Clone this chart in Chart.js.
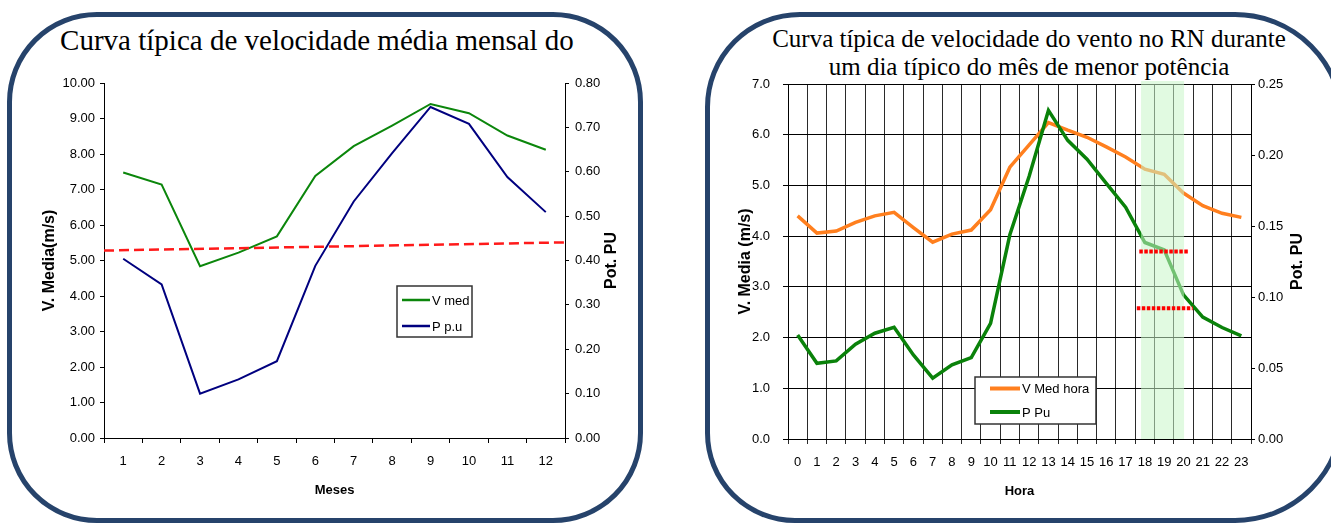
<!DOCTYPE html>
<html><head><meta charset="utf-8">
<script src="https://cdn.jsdelivr.net/npm/chart.js@4/dist/chart.umd.min.js"></script>
<style>
html,body{margin:0;padding:0;width:1331px;height:523px;overflow:hidden;background:#fff;}
.box{position:absolute;box-sizing:border-box;border:5px solid #26436B;border-radius:90px;}
.title{position:absolute;font-family:'Liberation Serif','Times New Roman',serif;color:#000;text-align:center;white-space:nowrap;}
canvas{position:absolute;top:0;}
</style></head><body>
<div class="box" style="left:7px;top:12px;width:636px;height:511px"></div>
<div class="box" style="left:705px;top:12px;width:640px;height:511px;border-radius:95px 110px 110px 90px"></div>
<div class="title" style="left:17px;top:26px;width:600px;font-size:29px;line-height:29px">Curva típica de velocidade média mensal do</div>
<div class="title" style="left:729px;top:25px;width:600px;font-size:25px;line-height:28px">Curva típica de velocidade do vento no RN durante<br>um dia típico do mês de menor potência</div>
<canvas id="c1" width="660" height="523" style="left:0"></canvas>
<canvas id="c2" width="671" height="523" style="left:660px"></canvas>
<script>
// ---- Chart 1 data (monthly) ----
const months = ['1','2','3','4','5','6','7','8','9','10','11','12'];
const vMed = [7.48, 7.14, 4.84, 5.22, 5.68, 7.38, 8.22, 8.80, 9.41, 9.15, 8.52, 8.12];
const pPu = [0.404, 0.346, 0.100, 0.132, 0.173, 0.388, 0.533, 0.642, 0.746, 0.708, 0.588, 0.509];
const trendX = [0.5, 12.5];
const trendY = [5.28, 5.51];

// ---- Chart 2 data (hourly) ----
const hours = ['0','1','2','3','4','5','6','7','8','9','10','11','12','13','14','15','16','17','18','19','20','21','22','23'];
const vMedHora = [4.40, 4.06, 4.10, 4.27, 4.40, 4.47, 4.17, 3.88, 4.04, 4.12, 4.52, 5.36, 5.80, 6.24, 6.09, 5.95, 5.76, 5.56, 5.32, 5.22, 4.85, 4.60, 4.45, 4.37];
const pPuHora = [0.0733, 0.0533, 0.0550, 0.0667, 0.0745, 0.0787, 0.0592, 0.0428, 0.0522, 0.0573, 0.0815, 0.1438, 0.1850, 0.2314, 0.2103, 0.1970, 0.1800, 0.1633, 0.1384, 0.1332, 0.1015, 0.0858, 0.0785, 0.0726];
const refLevels = [0.132, 0.092];
const refStart = [17.71, 17.58];
const refEnd = [20.30, 20.48];
const bandRange = [17.8, 20.03];

Chart.defaults.font.family = "'Liberation Sans', Arial, sans-serif";
Chart.defaults.font.size = 13;
Chart.defaults.color = '#000';

const legendBox = {
  id: 'legendBox',
  afterDraw(chart, args, o) {
    const ctx = chart.ctx, b = o.box;
    ctx.save();
    ctx.fillStyle = '#fff';
    ctx.fillRect(b[0], b[1], b[2], b[3]);
    ctx.strokeStyle = '#333'; ctx.lineWidth = 1.5;
    ctx.strokeRect(b[0], b[1], b[2], b[3]);
    ctx.font = "13px 'Liberation Sans', Arial, sans-serif";
    ctx.textBaseline = 'middle'; ctx.textAlign = 'left'; ctx.fillStyle = '#000';
    chart.data.datasets.filter(d => d.inLegend).forEach((d, i) => {
      const y = o.firstY + i * o.stepY;
      ctx.strokeStyle = d.borderColor; ctx.lineWidth = o.lineW;
      ctx.beginPath(); ctx.moveTo(o.x0, y); ctx.lineTo(o.x1, y); ctx.stroke();
      ctx.fillText(d.label, o.x1 + 2, y + 1);
    });
    ctx.restore();
  }
};

const rightTitle = {
  id: 'rightTitle',
  afterDraw(chart, args, o) {
    const s = chart.scales.y1, ctx = chart.ctx;
    ctx.save();
    ctx.font = "bold 16px 'Liberation Sans', Arial, sans-serif";
    ctx.fillStyle = '#000'; ctx.textAlign = 'center'; ctx.textBaseline = 'middle';
    ctx.translate(s.right - o.offset, (s.top + s.bottom) / 2);
    ctx.rotate(-Math.PI / 2);
    ctx.fillText(o.text, 0, 0);
    ctx.restore();
  }
};

const bandPlugin = {
  id: 'band',
  beforeDatasetsDraw(chart) { chart.$bandDone = false; },
  beforeDatasetDraw(chart, args) {
    const ds = chart.data.datasets[args.index];
    if (ds.refLine && !chart.$bandDone) {
      chart.$bandDone = true;
      const x2 = chart.scales.x2, a = chart.chartArea, ctx = chart.ctx;
      const xa = x2.getPixelForValue(bandRange[0]), xb = x2.getPixelForValue(bandRange[1]);
      ctx.save();
      ctx.fillStyle = 'rgba(200,245,200,0.55)';
      ctx.fillRect(xa, a.top - 3, xb - xa, a.bottom - a.top + 3);
      ctx.restore();
    }
  }
};

// ---------- Chart 1 ----------
new Chart(document.getElementById('c1'), {
  type: 'line',
  data: {
    labels: months,
    datasets: [
      {label: 'V med', data: vMed, yAxisID: 'y', borderColor: '#0B860B', borderWidth: 2, pointRadius: 0, order: 2, inLegend: true},
      {label: 'P p.u', data: pPu, yAxisID: 'y1', borderColor: '#00007F', borderWidth: 2, pointRadius: 0, order: 1, inLegend: true},
      {label: 'tendência', data: trendX.map((x, i) => ({x: x, y: trendY[i]})), xAxisID: 'x2', yAxisID: 'y',
       borderColor: '#FF1A1A', borderWidth: 2.5, borderDash: [10, 5], pointRadius: 0, order: 0}
    ]
  },
  options: {
    responsive: false, animation: false,
    layout: {padding: {top: 83, left: 36, right: 34, bottom: 21}},
    plugins: {
      legend: {display: false}, tooltip: {enabled: false},
      legendBox: {box: [397, 286, 75, 51], x0: 402, x1: 430, firstY: 300, stepY: 26, lineW: 2.5},
      rightTitle: {text: 'Pot. PU', offset: 14}
    },
    scales: {
      x: {type: 'category', offset: true,
          grid: {offset: true, drawOnChartArea: false, color: '#000', tickLength: 5},
          border: {color: '#000'},
          ticks: {padding: 11, autoSkip: false, maxRotation: 0},
          title: {display: true, text: 'Meses', font: {weight: 'bold', size: 13}},
          afterFit: s => { s.height = 64; }},
      x2: {type: 'linear', display: false, min: 0.5, max: 12.5},
      y: {position: 'left', min: 0, max: 10,
          ticks: {stepSize: 1, padding: 5, callback: v => Number(v).toFixed(2)},
          grid: {drawOnChartArea: false, color: '#000', tickLength: 4},
          border: {color: '#000'},
          title: {display: true, text: 'V. Media(m/s)', font: {weight: 'bold', size: 16}},
          afterFit: s => { s.width = 68; }},
      y1: {position: 'right', min: 0, max: 0.8,
          ticks: {stepSize: 0.1, padding: 6, callback: v => Number(v).toFixed(2)},
          grid: {drawOnChartArea: false, color: '#000', tickLength: 4},
          border: {color: '#000'},
          afterFit: s => { s.width = 61; }}
    }
  },
  plugins: [legendBox, rightTitle]
});

// ---------- Chart 2 ----------
new Chart(document.getElementById('c2'), {
  type: 'line',
  data: {
    labels: hours,
    datasets: [
      {label: 'V Med hora', data: vMedHora, yAxisID: 'y', borderColor: '#FF7F1E', borderWidth: 3.5, pointRadius: 0, order: 3, inLegend: true},
      {label: 'P Pu', data: pPuHora, yAxisID: 'y1', borderColor: '#0A820A', borderWidth: 3.5, pointRadius: 0, order: 2, inLegend: true},
      ...refLevels.map((lv, i) => ({
        label: 'ref' + i, refLine: true,
        data: [{x: refStart[i], y: lv}, {x: refEnd[i], y: lv}],
        xAxisID: 'x2', yAxisID: 'y1', borderColor: '#FF0000', borderWidth: 4,
        borderDash: [3.5, 1.5], borderCapStyle: 'butt', pointRadius: 0, order: 1
      }))
    ]
  },
  options: {
    responsive: false, animation: false,
    layout: {padding: {top: 84, left: 72, right: 20, bottom: 19.5}},
    plugins: {
      legend: {display: false}, tooltip: {enabled: false},
      legendBox: {box: [315, 377, 121, 47], x0: 330, x1: 360, firstY: 388.5, stepY: 23.5, lineW: 4},
      rightTitle: {text: 'Pot. PU', offset: 13.3}
    },
    scales: {
      x: {type: 'category', offset: true,
          grid: {offset: true, color: '#2a2a2a', tickLength: 5},
          border: {color: '#000'},
          ticks: {padding: 11, autoSkip: false, maxRotation: 0},
          title: {display: true, text: 'Hora', font: {weight: 'bold', size: 13}},
          afterFit: s => { s.height = 64.5; }},
      x2: {type: 'linear', display: false, min: -0.5, max: 23.5},
      y: {position: 'left', min: 0, max: 7,
          ticks: {stepSize: 1, padding: 13, callback: v => Number(v).toFixed(1)},
          grid: {color: '#000', tickLength: 5},
          border: {color: '#000'},
          title: {display: true, text: 'V. Media (m/s)', font: {weight: 'bold', size: 16}},
          afterFit: s => { s.width = 56; }},
      y1: {position: 'right', min: 0, max: 0.25,
          ticks: {stepSize: 0.05, padding: 3, callback: v => Number(v).toFixed(2)},
          grid: {drawOnChartArea: false, color: '#000', tickLength: 4},
          border: {color: '#000'},
          afterFit: s => { s.width = 60; }}
    }
  },
  plugins: [bandPlugin, legendBox, rightTitle]
});
</script>
</body></html>
